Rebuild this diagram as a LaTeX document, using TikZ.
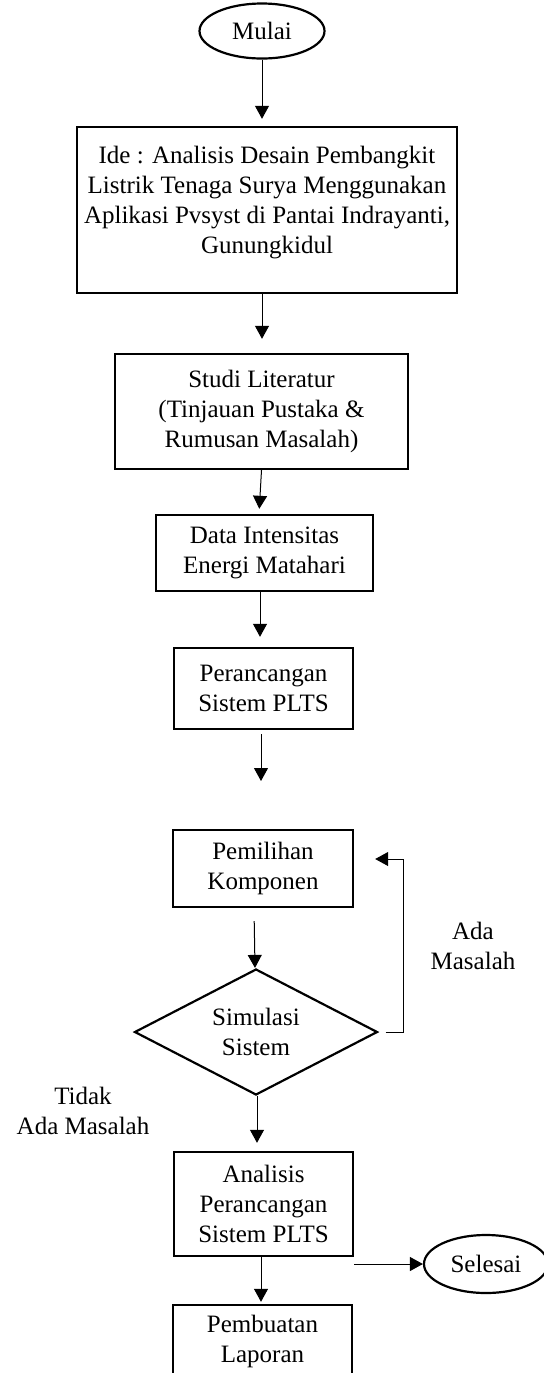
\documentclass[tikz,border=0pt]{standalone}
\usepackage{fontspec}
\setmainfont{Liberation Serif}
\usepackage{tikz}
\usetikzlibrary{arrows.meta,positioning,shapes.geometric}
\tikzset{
  box/.style    ={rectangle,draw,line width=1.2pt,align=center,inner sep=0pt,font=\fontsize{12.5}{15}\selectfont},
  term/.style   ={ellipse,draw,line width=1.1pt,inner sep=0pt,font=\fontsize{12.5}{15}\selectfont},
  decide/.style ={diamond,draw,line width=1.1pt,shape aspect=1.9,align=center,inner sep=0pt,font=\fontsize{12.5}{15}\selectfont},
  note/.style   ={align=center,font=\fontsize{12.5}{15}\selectfont},
  arrow/.style  ={line width=0.5pt,-{Triangle[length=6.5pt,width=7pt]}},
}
\begin{document}
\begin{tikzpicture}[x=0.5pt,y=0.5pt]
  \useasboundingbox (0,0) rectangle (544,-1373);
  % main column
  \node[term,minimum width=62.5pt,minimum height=27.5pt] (mulai) at (262,-31) {Mulai};
  \node[box,minimum width=190pt,minimum height=83pt] (ide) at (267,-210) {};
  \node[note] (idetext) at (267,-203)
     {Ide : Analisis Desain Pembangkit\\Listrik Tenaga Surya Menggunakan\\Aplikasi Pvsyst di Pantai Indrayanti,\\Gunungkidul};
  \node[box,minimum width=146.5pt,minimum height=57.5pt] (studi) at (261.5,-411.5)
     {Studi Literatur\\(Tinjauan Pustaka \&\\Rumusan Masalah)};
  \node[box,minimum width=108.5pt,minimum height=38pt] (data) at (264.5,-553)
     {Data Intensitas\\Energi Matahari};
  \node[box,minimum width=89.5pt,minimum height=40.5pt] (rancang) at (263.5,-688.5)
     {Perancangan\\Sistem PLTS};
  \coordinate (putus) at (261,-781);
  \node[box,minimum width=90pt,minimum height=38.5pt] (pilih) at (263,-868.5)
     {Pemilihan\\Komponen};
  \node[decide,minimum width=121.5pt,minimum height=63pt] (simul) at (256,-1032)
     {Simulasi\\Sistem};
  \node[box,minimum width=89.5pt,minimum height=52pt] (analisis) at (263.5,-1204)
     {Analisis\\Perancangan\\Sistem PLTS};
  \node[box,minimum width=89.5pt,minimum height=36pt] (laporan) at (262.5,-1341)
     {Pembuatan\\Laporan};
  \node[term,minimum width=62pt,minimum height=29pt] (selesai) at (486,-1264) {Selesai};
  % labels
  \node[note] (ada) at (473,-946) {Ada\\Masalah};
  \node[note] (tidak) at (83,-1111) {Tidak\\Ada Masalah};
  % connectors
  \draw[arrow,shorten >=3.5pt] (mulai.south) -- (ide.north -| mulai.south);
  \draw[arrow,shorten >=7pt] ([xshift=-2.5pt]ide.south) -- ([xshift=-2.5pt]ide.south |- studi.north);
  \draw[arrow,shorten >=2.5pt] (studi.south) -- ([xshift=-2.75pt]data.north);
  \draw[arrow,shorten >=5pt] ([xshift=-2.25pt]data.south) -- ([xshift=-2.25pt]data.south |- rancang.north);
  \draw[arrow,shorten <=2pt] (rancang.south -| putus) -- (putus);
  \draw[arrow,shorten <=6.5pt] ([xshift=-4.5pt]pilih.south) -- ([xshift=-0.5pt]simul.north);
  \coordinate (balik) at (403,-859);
  \draw[arrow,shorten <=3.5pt,shorten >=10.5pt] (simul.east) -- (simul.east -| balik) -- (balik) -- (pilih.east |- balik);
  \draw[arrow,shorten >=4pt] ([xshift=0.5pt]simul.south) -- ([xshift=0.5pt]simul.south |- analisis.north);
  \draw[arrow,shorten >=1pt] ([xshift=-1.25pt]analisis.south) -- ([xshift=-1.25pt]analisis.south |- laporan.north);
  \draw[arrow] (analisis.east |- selesai.west) -- (selesai.west);
\end{tikzpicture}
\end{document}
